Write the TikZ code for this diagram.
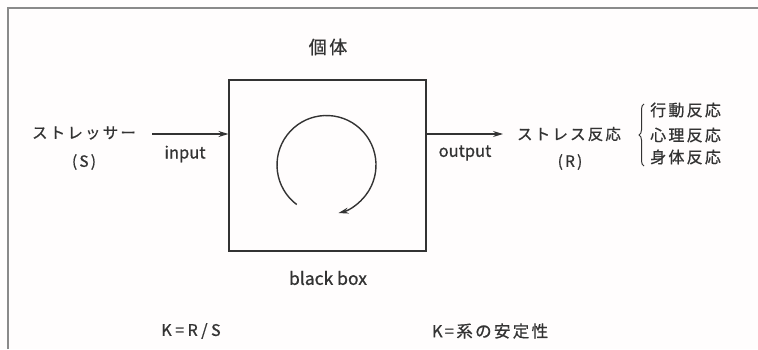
\documentclass[tikz,border=0pt]{standalone}
\usepackage{fontspec}
\setmainfont{Noto Sans CJK JP}
\newfontfamily\jpw[LetterSpace=14,FakeBold=0.8]{Noto Sans CJK JP}
\newfontfamily\jpk[LetterSpace=22,FakeBold=0.8]{Noto Sans CJK JP}
\newfontfamily\jpn[FakeBold=0.8]{Noto Sans CJK JP}
\usetikzlibrary{arrows.meta,decorations.pathreplacing}
\definecolor{ink}{HTML}{333333}
\definecolor{frame}{HTML}{8A8A8A}
\tikzset{
  lbl/.style={text=ink, inner sep=0pt, font=\jpw\fontsize{15.5}{17}\selectfont},
  lat/.style={text=ink, inner sep=0pt, font=\jpn\fontsize{16.5}{18}\selectfont},
  arr/.style={draw=ink, line width=1.1pt, -{Stealth[length=10pt,width=6pt]}},
}
\begin{document}
\begin{tikzpicture}[x=1pt,y=1pt]
\useasboundingbox (0,0) rectangle (758,349);
\fill[white!97!pink] (0,0) rectangle (758,349);
% frame
\draw[frame, line width=1.3pt] (8,0) -- (8,341) -- (758,341);
% box
\node[draw=ink, line width=1.1pt, minimum width=197pt, minimum height=171pt, inner sep=0pt] (box) at (327.5,183.5) {};
\node[lbl, font=\jpw\fontsize{18}{20}\selectfont] (ind) at (328,302) {個体};
\node[lat, font=\jpn\fontsize{17.5}{19}\selectfont] (bb) at (328,71) {black box};
% cycle arrow
\coordinate (c) at (326.5,184);
\draw[draw=ink, line width=1.4pt, -{Stealth[length=10pt,width=6pt]}] ([shift={(233:49.5)}]c) arc[start angle=233, end angle=-76, radius=49.5];
% input side
\node[lbl] (st) at (84,216) {ストレッサー};
\node[lbl] (s) at (84,187) {(S)};
\coordinate (inS) at (152,215);
\draw[arr] (inS) -- (box.west |- inS);
\node[lat] (in) at (185,195) {input};
% output side
\coordinate (outE) at (503,215);
\draw[arr] (box.east |- outE) -- (outE);
\node[lat] (out) at (465,196) {output};
\node[lbl] (sr) at (569,215) {ストレス反応};
\node[lbl] (r) at (570,187) {(R)};
\coordinate (b1) at (644,183);
\coordinate (b2) at (644,245);
\draw[ink, line width=1pt, decorate, decoration={brace, amplitude=5pt}] (b1) -- (b2);
\node[lbl, anchor=west, font=\jpw\fontsize{16}{18}\selectfont] (a1) at (650,239) {行動反応};
\node[lbl, anchor=west, font=\jpw\fontsize{16}{18}\selectfont] (a2) at (650,214) {心理反応};
\node[lbl, anchor=west, font=\jpw\fontsize{16}{18}\selectfont] (a3) at (650,192) {身体反応};
% formulas
\node[lbl, font=\jpk\fontsize{16}{18}\selectfont] (k1) at (191,18) {K=R/S};
\node[lbl, font=\jpw\fontsize{16.5}{18}\selectfont] (k2) at (490,18) {K=系の安定性};
\end{tikzpicture}
\end{document}
